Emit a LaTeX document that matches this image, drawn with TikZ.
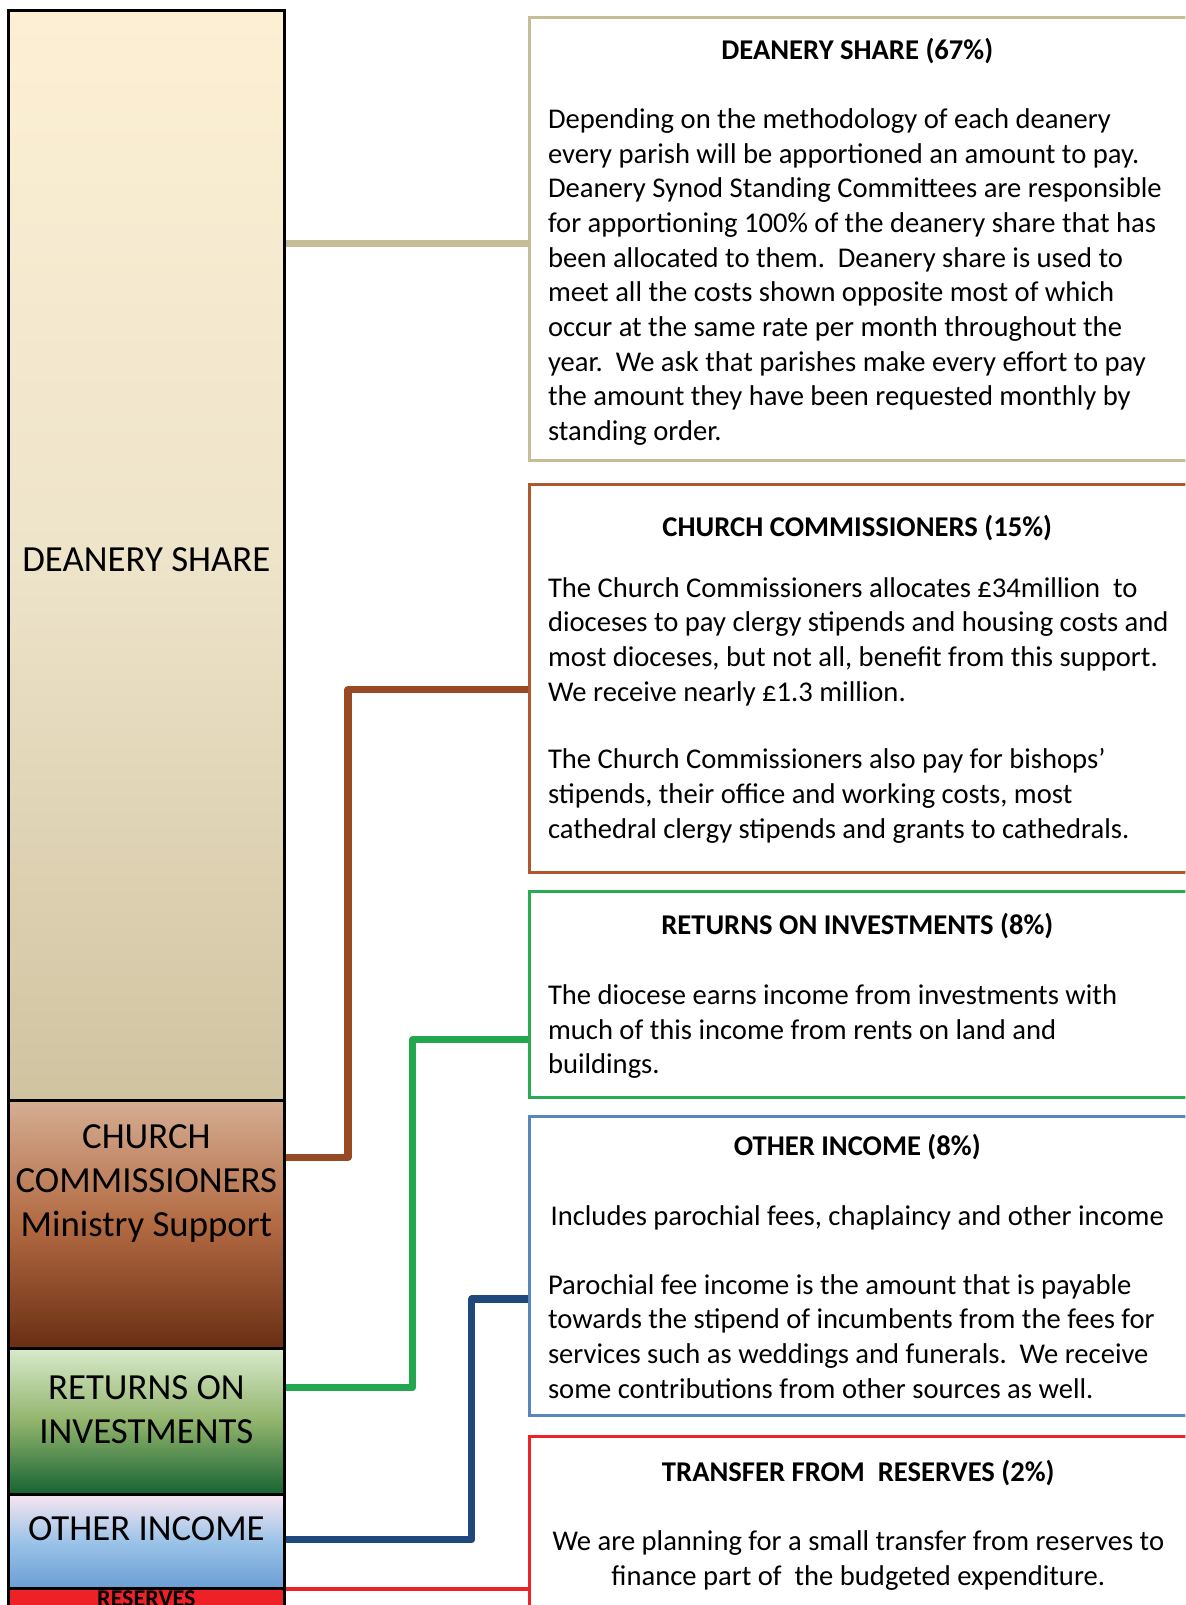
\documentclass[tikz,border=0pt]{standalone}
\usepackage{fontspec}
\setmainfont{Carlito}
\usetikzlibrary{calc,positioning}
\pgfdeclarelayer{background}
\pgfsetlayers{background,main}
\newcommand{\unitpx}{0.5117pt}
\definecolor{deanerytan}{HTML}{C4BD97}
\definecolor{churchlink}{HTML}{974A23}
\definecolor{churchframe}{HTML}{AE582B}
\definecolor{returnslink}{HTML}{22A74F}
\definecolor{returnsframe}{HTML}{2AAB52}
\definecolor{otherlink}{HTML}{1F497D}
\definecolor{otherframe}{HTML}{5A86BF}
\definecolor{reservered}{HTML}{EE2226}
\tikzset{barseg/.style={draw=black, line width=1.5pt, inner sep=0pt, outer sep=0pt,
        anchor=north west, minimum width=270*\unitpx},
    barlabel/.style={font=\fontsize{18.4}{22}\selectfont, align=center},
    infobox/.style={draw=#1, line width=1.5pt, fill=white, inner sep=0pt, outer sep=0pt,
        anchor=north west, minimum width=645*\unitpx},
    boxtitle/.style={font=\fontsize{14.3}{17.35}\selectfont\bfseries, anchor=base, inner sep=0pt},
    % base of a multi-line node = baseline of its last line
    boxbody/.style={font=\fontsize{14.3}{17.35}\selectfont, align=left, anchor=base west, inner sep=0pt},
    link/.style={draw=#1, line width=3.6pt, line join=round}}
\frenchspacing

\begin{document}
\begin{tikzpicture}[x=\unitpx, y=\unitpx]
    \useasboundingbox (0,0) rectangle (1158,-1568);
    \clip (0,0) rectangle (1158,-1568);
    % income bar
    \node[barseg, minimum height=1065*\unitpx, top color={rgb,255:red,252;green,239;blue,212},
        bottom color={rgb,255:red,208;green,195;blue,160}, middle color={rgb,255:red,238;green,228;blue,202}]
        (deanery) at (8,-10) {};
    \node[barseg, minimum height=242*\unitpx, top color={rgb,255:red,213;green,173;blue,147},
        bottom color={rgb,255:red,106;green,46;blue,20}, middle color={rgb,255:red,178;green,106;blue,66}]
        (church) at (deanery.south west) {};
    \node[barseg, minimum height=143*\unitpx, top color={rgb,255:red,217;green,234;blue,204},
        bottom color={rgb,255:red,22;green,99;blue,51}, middle color={rgb,255:red,145;green,180;blue,108}]
        (returns) at (church.south west) {};
    \node[barseg, minimum height=92*\unitpx, top color={rgb,255:red,248;green,230;blue,240},
        bottom color={rgb,255:red,106;green,158;blue,211}, middle color={rgb,255:red,155;green,195;blue,232}]
        (other) at (returns.south west) {};
    \node[barseg, minimum height=60*\unitpx, fill=reservered] (reserves) at (other.south west) {};

    \node[barlabel] at ($(deanery.center)+(0,-4)$) {DEANERY SHARE};
    \node[barlabel] at ($(church.center)+(0,40)$) {CHURCH\\COMMISSIONERS\\Ministry Support};
    \node[barlabel] at ($(returns.center)+(0,11)$) {RETURNS ON\\INVESTMENTS};
    \node[barlabel] at ($(other.center)+(0,13)$) {OTHER INCOME};
    \node[font=\fontsize{12}{14}\selectfont\bfseries, anchor=base, inner sep=0pt]
        at ($(reserves.north)+(0,-17)$) {RESERVES};

    % explanation boxes
    \node[infobox=deanerytan, minimum height=433*\unitpx] (deaneryinfo) at (517,-17) {};
    \node[infobox=churchframe, minimum height=379*\unitpx] (churchinfo) at (517,-473) {};
    \node[infobox=returnsframe, minimum height=201*\unitpx] (returnsinfo) at (517,-871) {};
    \node[infobox=otherframe, minimum height=292*\unitpx] (otherinfo) at (517,-1091) {};
    \node[infobox=reservered, minimum height=230*\unitpx] (transferinfo) at (517,-1403) {};

    \node[boxtitle] at ($(deaneryinfo.north)+(-2,-41)$) {DEANERY SHARE (67\%)};
    \node[boxbody] at ($(deaneryinfo.north west)+(18,-413.5)$) {Depending on the methodology of each deanery\\
        every parish will be apportioned an amount to pay.\\
        Deanery Synod Standing Committees are responsible\\
        for apportioning 100\% of the deanery share that has\\
        been allocated to them.~ Deanery share is used to\\
        meet all the costs shown opposite most of which\\
        occur at the same rate per month throughout the\\
        year.~ We ask that parishes make every effort to pay\\
        the amount they have been requested monthly by\\
        standing order.};

    \node[boxtitle] at ($(churchinfo.north)+(-2,-51)$) {CHURCH COMMISSIONERS (15\%)};
    \node[boxbody] at ($(churchinfo.north west)+(18,-346)$) {The Church Commissioners allocates £34million~ to\\
        dioceses to pay clergy stipends and housing costs and\\
        most dioceses, but not all, benefit from this support.\\
        We receive nearly £1.3 million.\\[16.4pt]
        The Church Commissioners also pay for bishops’\\
        stipends, their office and working costs, most\\
        cathedral clergy stipends and grants to cathedrals.};

    \node[boxtitle] at ($(returnsinfo.north)+(-2,-42)$) {RETURNS ON INVESTMENTS (8\%)};
    \node[boxbody] at ($(returnsinfo.north west)+(18,-178)$) {The diocese earns income from investments with\\
        much of this income from rents on land and\\
        buildings.};

    \node[boxtitle] at ($(otherinfo.north)+(-2,-38)$) {OTHER INCOME (8\%)};
    \node[boxtitle, font=\fontsize{14.3}{17.35}\selectfont] at ($(otherinfo.north)+(-2,-106)$)
        {Includes parochial fees, chaplaincy and other income};
    \node[boxbody] at ($(otherinfo.north west)+(18,-275)$) {Parochial fee income is the amount that is payable\\
        towards the stipend of incumbents from the fees for\\
        services such as weddings and funerals.~ We receive\\
        some contributions from other sources as well.};

    \node[boxtitle] at ($(transferinfo.north)+(-1,-44)$) {TRANSFER FROM~ RESERVES (2\%)};
    \node[boxbody, align=center, anchor=base] at ($(transferinfo.north)+(-1,-146)$)
        {We are planning for a small transfer from reserves to\\
        finance part of~ the budgeted expenditure.};

    % connectors
    \coordinate (deaneryjoin) at ($(deaneryinfo.north west)!.51!(deaneryinfo.south west)$);
    \begin{pgfonlayer}{background}
        \draw[link=deanerytan] (deaneryjoin -| deanery.east) -- (deaneryjoin);
        \draw[link=churchlink] ($(church.north east)!.23!(church.south east)$) -- ++(62,0)
            |- ($(churchinfo.north west)!.53!(churchinfo.south west)$);
        \draw[link=returnslink] ($(returns.north east)!.27!(returns.south east)$) -- ++(125,0)
            |- ($(returnsinfo.north west)!.72!(returnsinfo.south west)$);
        \draw[link=otherlink] ($(other.north east)!.48!(other.south east)$) -- ++(183,0)
            |- ($(otherinfo.north west)!.61!(otherinfo.south west)$);
        \draw[link=reservered, line width=2pt] (reserves.north east) -- (reserves.north east -| transferinfo.west);
    \end{pgfonlayer}
\end{tikzpicture}
\end{document}
